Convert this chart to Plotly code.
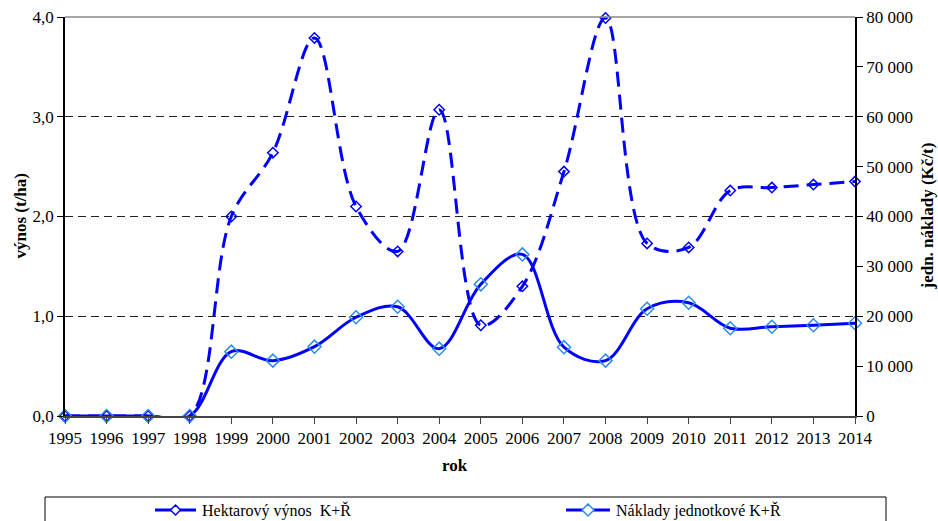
import plotly.graph_objects as go

# Years on the horizontal axis
roky = list(range(1995, 2015))

# Hectare yield K+Ř (t/ha), left axis
vynos = [0.0, 0.0, 0.0, 0.0, 2.0, 2.64, 3.79, 2.10, 1.65, 3.07,
         0.91, 1.30, 2.45, 3.99, 1.73, 1.69, 2.26, 2.29, 2.32, 2.35]

# Unit costs K+Ř (Kč/t), right axis
naklady = [0, 0, 0, 0, 12900, 11100, 13900, 19800, 21900, 13500,
           26400, 32400, 13800, 11100, 21500, 22700, 17600, 17900, 18200, 18600]

nazev_vynos = "Hektarový výnos  K+Ř"
nazev_naklady = "Náklady jednotkové K+Ř"

W, H = 938, 521
L, R, T, B = 65, 83, 17, 105
PW, PH = W - L - R, H - T - B

FONT = "Liberation Serif, Times New Roman, serif"
TICK = 17
BLUE = "#0000ff"
MARK2 = "#2a8cf0"


def px(x):
    return (x - L) / PW


def py(y):
    return (H - B - y) / PH


fig = go.Figure()

fig.add_trace(go.Scatter(
    x=roky, y=vynos, name=nazev_vynos, yaxis="y",
    mode="lines+markers",
    line=dict(color=BLUE, width=3, dash="15px,8px", shape="spline", smoothing=1.0),
    marker=dict(symbol="diamond-open", size=8, color=BLUE, line=dict(width=1.5, color=BLUE)),
    cliponaxis=False, showlegend=False,
))

fig.add_trace(go.Scatter(
    x=roky, y=naklady, name=nazev_naklady, yaxis="y2",
    mode="lines+markers",
    line=dict(color=BLUE, width=3, shape="spline", smoothing=1.0),
    marker=dict(symbol="diamond-open", size=10, color=MARK2, line=dict(width=1.5, color=MARK2)),
    cliponaxis=False, showlegend=False,
))

shapes = [
    # top border of the plot area
    dict(type="line", xref="paper", yref="paper", x0=0, x1=1, y0=1, y1=1,
         line=dict(color="#888888", width=1.5)),
    # legend frame
    dict(type="rect", xref="paper", yref="paper",
         x0=px(45), x1=px(886), y0=py(497), y1=py(540),
         line=dict(color="black", width=1), fillcolor="rgba(0,0,0,0)"),
]

title_font = dict(family=FONT, size=TICK, color="black")
annotations = [
    # axis titles
    dict(text="<b>výnos (t/ha)</b>", xref="paper", yref="paper", x=px(20), y=0.5,
         textangle=-90, showarrow=False, xanchor="center", yanchor="middle", font=title_font),
    dict(text="<b>jedn. náklady (Kč/t)</b>", xref="paper", yref="paper", x=px(927), y=0.5,
         textangle=-90, showarrow=False, xanchor="center", yanchor="middle", font=title_font),
    dict(text="<b>rok</b>", xref="paper", yref="paper", x=px(455), y=py(466),
         showarrow=False, xanchor="center", yanchor="middle", font=title_font),
]

# legend entries: line sample, diamond marker, label
for (x0, x1, mcol, msz, label) in [
    (155, 196, BLUE, 5, nazev_vynos),
    (566, 610, MARK2, 6, nazev_naklady),
]:
    yc = 510
    shapes.append(dict(type="line", xref="paper", yref="paper",
                       x0=px(x0), x1=px(x1), y0=py(yc), y1=py(yc),
                       line=dict(color=BLUE, width=3)))
    xc = (x0 + x1) / 2
    path = (f"M {px(xc)},{py(yc - msz)} L {px(xc + msz)},{py(yc)} "
            f"L {px(xc)},{py(yc + msz)} L {px(xc - msz)},{py(yc)} Z")
    shapes.append(dict(type="path", xref="paper", yref="paper", path=path,
                       line=dict(color=mcol, width=1.5), fillcolor="white"))
    annotations.append(dict(text=label, xref="paper", yref="paper",
                            x=px(x1 + 4), y=py(yc), xanchor="left", yanchor="middle",
                            showarrow=False, font=dict(family=FONT, size=16, color="black")))

axis_common = dict(
    automargin=False, zeroline=False, showline=True,
    ticks="outside", ticklen=6, tickfont=dict(family=FONT, size=TICK),
)

fig.update_layout(
    width=W, height=H,
    margin=dict(l=L, r=R, t=T, b=B, pad=0, autoexpand=False),
    paper_bgcolor="white", plot_bgcolor="white",
    separators=", ",
    font=dict(family=FONT, size=TICK, color="black"),
    xaxis=dict(
        axis_common,
        range=[1995, 2014], dtick=1, tick0=1995,
        showgrid=False,
        linecolor="#444444", linewidth=2, tickcolor="#444444", tickwidth=1,
    ),
    yaxis=dict(
        axis_common,
        range=[0, 4], dtick=1, tickformat=".1f",
        showgrid=True, gridcolor="#222222", gridwidth=1, griddash="8px,5px",
        linecolor="black", linewidth=1.5, tickcolor="black",
    ),
    yaxis2=dict(
        axis_common,
        range=[0, 80000], dtick=10000, tickformat=",d",
        overlaying="y", side="right",
        showgrid=False,
        linecolor="black", linewidth=1.5, tickcolor="black",
    ),
    shapes=shapes,
    annotations=annotations,
    showlegend=False,
)

fig.write_html("out.html")
